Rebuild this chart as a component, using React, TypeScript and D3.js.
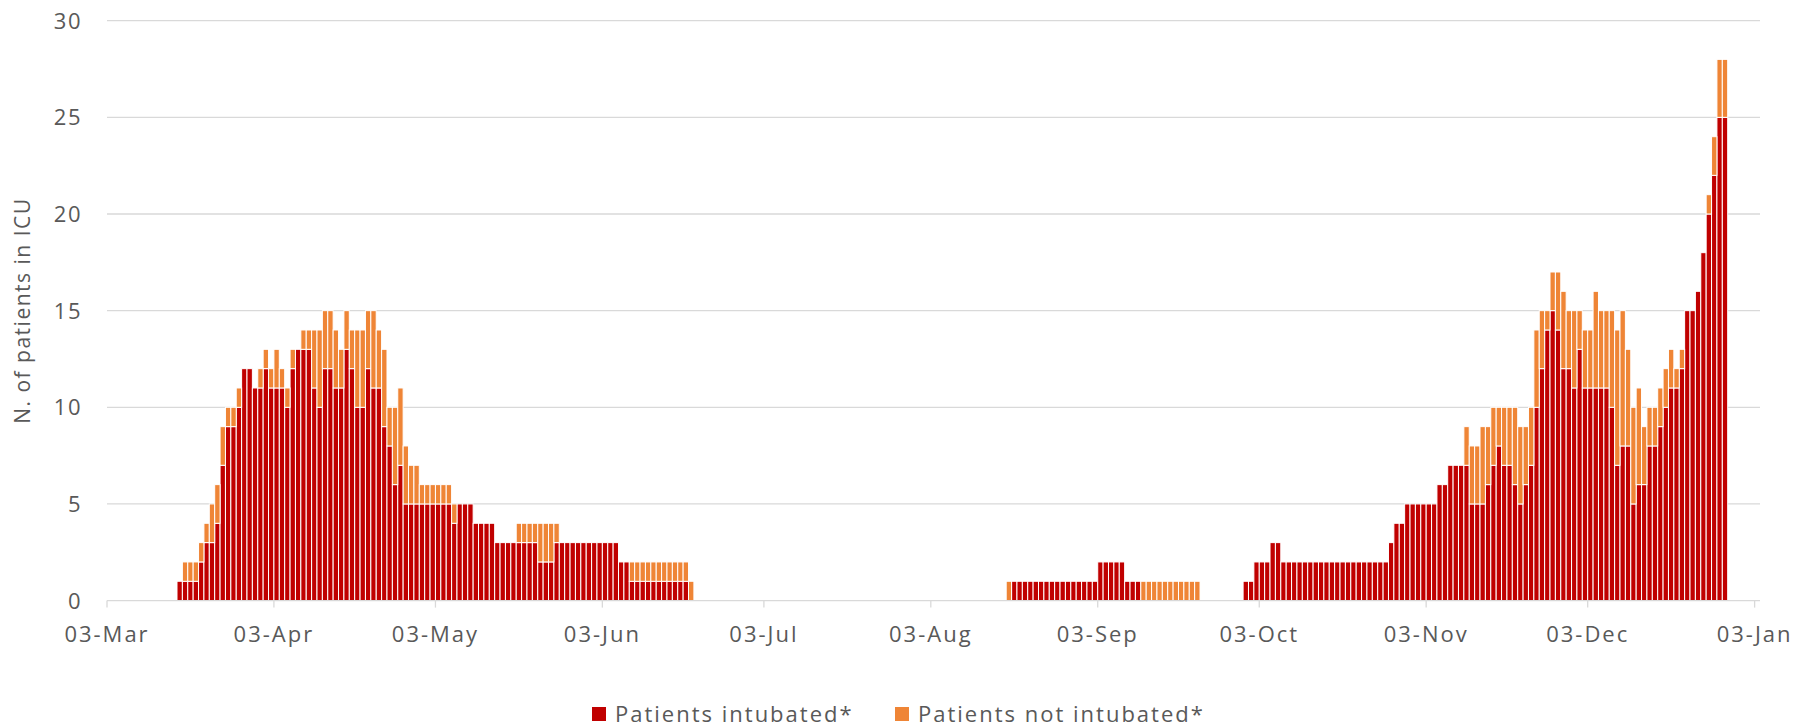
import React from "react";
import * as d3 from "d3";

// daily counts (one value per day)
const wave1Start = "2020-03-16";
const wave1Intubated = [
  1, 1, 1, 1, 2, 3, 3, 4, 7, 9,
  9, 10, 12, 12, 11, 11, 12, 11, 11, 11,
  10, 12, 13, 13, 13, 11, 10, 12, 12, 11,
  11, 13, 12, 10, 10, 12, 11, 11, 9, 8,
  6, 7, 5, 5, 5, 5, 5, 5, 5, 5,
  5, 4, 5, 5, 5, 4, 4, 4, 4, 3,
  3, 3, 3, 3, 3, 3, 3, 2, 2, 2,
  3, 3, 3, 3, 3, 3, 3, 3, 3, 3,
  3, 3, 2, 2, 1, 1, 1, 1, 1, 1,
  1, 1, 1, 1, 1, 0,
];
const wave1NotIntubated = [
  0, 1, 1, 1, 1, 1, 2, 2, 2, 1,
  1, 1, 0, 0, 0, 1, 1, 1, 2, 1,
  1, 1, 0, 1, 1, 3, 4, 3, 3, 3,
  2, 2, 2, 4, 4, 3, 4, 3, 4, 2,
  4, 4, 3, 2, 2, 1, 1, 1, 1, 1,
  1, 1, 0, 0, 0, 0, 0, 0, 0, 0,
  0, 0, 0, 1, 1, 1, 1, 2, 2, 2,
  1, 0, 0, 0, 0, 0, 0, 0, 0, 0,
  0, 0, 0, 0, 1, 1, 1, 1, 1, 1,
  1, 1, 1, 1, 1, 1,
];

const wave2Start = "2020-08-17";
const wave2Intubated = [
  0, 1, 1, 1, 1, 1, 1, 1, 1, 1,
  1, 1, 1, 1, 1, 1, 1, 2, 2, 2,
  2, 2, 1, 1, 1, 0, 0, 0, 0, 0,
  0, 0, 0, 0, 0, 0,
];
const wave2NotIntubated = [
  1, 0, 0, 0, 0, 0, 0, 0, 0, 0,
  0, 0, 0, 0, 0, 0, 0, 0, 0, 0,
  0, 0, 0, 0, 0, 1, 1, 1, 1, 1,
  1, 1, 1, 1, 1, 1,
];

const wave3Start = "2020-09-30";
const wave3Intubated = [
  1, 1, 2, 2, 2, 3, 3, 2, 2, 2,
  2, 2, 2, 2, 2, 2, 2, 2, 2, 2,
  2, 2, 2, 2, 2, 2, 2, 3, 4, 4,
  5, 5, 5, 5, 5, 5, 6, 6, 7, 7,
  7, 7, 5, 5, 5, 6, 7, 8, 7, 7,
  6, 5, 6, 7, 10, 12, 14, 15, 14, 12,
  12, 11, 13, 11, 11, 11, 11, 11, 10, 7,
  8, 8, 5, 6, 6, 8, 8, 9, 10, 11,
  11, 12, 15, 15, 16, 18, 20, 22, 25, 25,
];
const wave3NotIntubated = [
  0, 0, 0, 0, 0, 0, 0, 0, 0, 0,
  0, 0, 0, 0, 0, 0, 0, 0, 0, 0,
  0, 0, 0, 0, 0, 0, 0, 0, 0, 0,
  0, 0, 0, 0, 0, 0, 0, 0, 0, 0,
  0, 2, 3, 3, 4, 3, 3, 2, 3, 3,
  4, 4, 3, 3, 4, 3, 1, 2, 3, 4,
  3, 4, 2, 3, 3, 5, 4, 4, 5, 7,
  7, 5, 5, 5, 3, 2, 2, 2, 2, 2,
  1, 1, 0, 0, 0, 0, 1, 2, 3, 3,
];

const yTicks = [0, 5, 10, 15, 20, 25, 30];
const monthTicks = [
  "2020-03-03", "2020-04-03", "2020-05-03", "2020-06-03", "2020-07-03",
  "2020-08-03", "2020-09-03", "2020-10-03", "2020-11-03", "2020-12-03",
  "2021-01-03",
];
const seriesKeys = ["intubated", "notIntubated"];
const seriesLabels = ["Patients intubated*", "Patients not intubated*"];
const seriesColors = ["#C00000", "#EF8536"];

const parse = (s: string) => new Date(s + "T00:00:00Z");

const toRows = (start: string, a: number[], b: number[]) =>
  a.map((v, i) => ({
    date: d3.utcDay.offset(parse(start), i),
    intubated: v,
    notIntubated: b[i],
  }));

const rows = [
  ...toRows(wave1Start, wave1Intubated, wave1NotIntubated),
  ...toRows(wave2Start, wave2Intubated, wave2NotIntubated),
  ...toRows(wave3Start, wave3Intubated, wave3NotIntubated),
];

const W = 1804;
const H = 727;
const left = 107;
const right = 1760;
const top = 20.7;
const bottom = 600.6;
const font = "'Open Sans', sans-serif";
const textColor = "#595959";

export default function App() {
  const x = d3
    .scaleUtc()
    .domain([parse("2020-03-03"), parse("2021-01-04")])
    .range([left, right]);
  const y = d3.scaleLinear().domain([0, 30]).range([bottom, top]);
  const color = d3.scaleOrdinal<string, string>().domain(seriesKeys).range(seriesColors);
  const stacked = d3.stack<any>().keys(seriesKeys)(rows);
  const fmt = d3.utcFormat("%d-%b");

  return (
    <svg
      width={W}
      height={H}
      style={{ position: "absolute", left: 0, top: 0, background: "#fff" }}
      fontFamily={font}
    >
      {/* grid */}
      {yTicks.map((t) => (
        <g key={t}>
          {t > 0 && (
            <line x1={left} x2={right} y1={y(t)} y2={y(t)} stroke="#D9D9D9" strokeWidth={1.3} />
          )}
          <text
            x={82}
            y={y(t)}
            dy="0.36em"
            textAnchor="end"
            fontSize={22}
            letterSpacing={1.5}
            fill={textColor}
          >
            {t}
          </text>
        </g>
      ))}

      {/* bars */}
      {stacked.map((s) => (
        <g key={s.key} fill={color(s.key)}>
          {s.map((d, i) => {
            if (d[1] - d[0] <= 0) return null;
            const x0 = x(d.data.date);
            const x1 = x(d3.utcDay.offset(d.data.date, 1));
            return (
              <rect
                key={i}
                x={x0}
                width={x1 - x0}
                y={y(d[1])}
                height={y(d[0]) - y(d[1])}
                stroke="#fff"
                strokeWidth={1}
              />
            );
          })}
        </g>
      ))}

      {/* x axis */}
      <line x1={left} x2={right} y1={bottom} y2={bottom} stroke="#D9D9D9" strokeWidth={1.3} />
      {monthTicks.map((m) => {
        const d = parse(m);
        return (
          <g key={m} transform={`translate(${x(d)},0)`}>
            <line y1={bottom} y2={bottom + 7} stroke="#D9D9D9" strokeWidth={1.3} />
            <text
              y={642}
              textAnchor="middle"
              fontSize={22}
              letterSpacing={2}
              fill={textColor}
            >
              {fmt(d)}
            </text>
          </g>
        );
      })}

      {/* y title */}
      <text
        transform={`translate(30,${(top + bottom) / 2}) rotate(-90)`}
        textAnchor="middle"
        fontSize={21}
        letterSpacing={1.5}
        fill={textColor}
      >
        N. of patients in ICU
      </text>

      {/* legend */}
      {seriesKeys.map((k, i) => {
        const lx = i === 0 ? 592 : 895;
        return (
          <g key={k} transform={`translate(${lx},0)`}>
            <rect x={0} y={707} width={14} height={14} fill={color(k)} />
            <text x={23} y={722} fontSize={22} letterSpacing={2} fill={textColor}>
              {seriesLabels[i]}
            </text>
          </g>
        );
      })}
    </svg>
  );
}
